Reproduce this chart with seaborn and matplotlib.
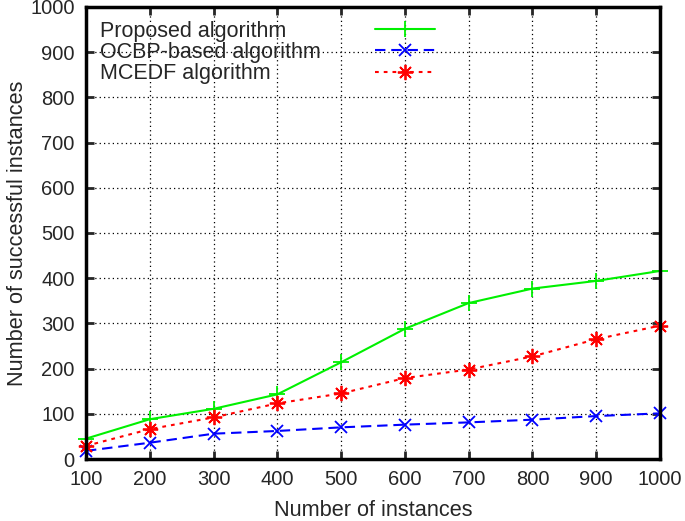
import matplotlib
matplotlib.use("Agg")
import matplotlib.pyplot as plt
import seaborn as sns
import pandas as pd

# datos
instances = [100, 200, 300, 400, 500, 600, 700, 800, 900, 1000]
proposed = [45, 88, 111, 143, 214, 288, 345, 377, 394, 416]
ocbp = [18, 36, 56, 62, 70, 76, 81, 87, 95, 101]
mcedf = [29, 66, 92, 123, 145, 179, 198, 227, 265, 295]
names = ["Proposed algorithm", "OCBP-based algorithm", "MCEDF algorithm"]

sns.set_style("ticks")
plt.rcParams['font.family'] = ['Liberation Sans', 'DejaVu Sans']

fig = plt.figure(figsize=(6.85, 5.21), dpi=100)
ax = fig.add_axes([0.1255, 0.119, 0.838, 0.8676])

df = pd.DataFrame({"x": instances, names[0]: proposed,
                   names[1]: ocbp, names[2]: mcedf})

colores = ["#00f000", "#0000ff", "#ff0000"]
marcas = ["+", "x", (8, 2, 0)]
tams = [12, 9, 11]
dashes = [None, (5, 2.8), (1.8, 2.4)]

for nombre, c, m, ms, d in zip(names, colores, marcas, tams, dashes):
    sns.lineplot(data=df, x="x", y=nombre, ax=ax, color=c, marker=m,
                 markersize=ms, markeredgewidth=1.3, markeredgecolor=c,
                 linewidth=1.5, clip_on=False)
    if d is not None:
        ax.lines[-1].set_dashes(d)

ax.set_xlim(100, 1000)
ax.set_ylim(0, 1000)
ax.set_xticks(range(100, 1001, 100))
ax.set_yticks(range(0, 1001, 100))
ax.grid(True, color="black", linestyle=(0, (1, 2.5)), linewidth=0.9)
ax.tick_params(direction="in", length=6, width=2, top=True, right=True,
               labelsize=14.5, pad=8)
for s in ax.spines.values():
    s.set_linewidth(2.5)
    s.set_color("black")

ax.set_xlabel("Number of instances", fontsize=15.7, labelpad=8)
ax.set_ylabel("Number of successful instances", fontsize=15.7, labelpad=2)

# leyenda estilo gnuplot: texto a la izquierda, muestra a la derecha
handles = ax.lines[:3]
ley1 = ax.legend(handles, names, loc="upper left", bbox_to_anchor=(0.025, 0.97),
                 frameon=False, handlelength=0, handletextpad=0,
                 labelspacing=0.02, borderaxespad=0, borderpad=0, fontsize=15.5)
for h in ley1.legend_handles:
    h.set_visible(False)
ax.add_artist(ley1)
ax.legend(handles, [" ", " ", " "], loc="upper left", bbox_to_anchor=(0.503, 0.97),
          frameon=False, handlelength=2.8, handletextpad=0, labelspacing=0.02,
          borderaxespad=0, borderpad=0, fontsize=15.5)

fig.savefig("out.png", dpi=100)
